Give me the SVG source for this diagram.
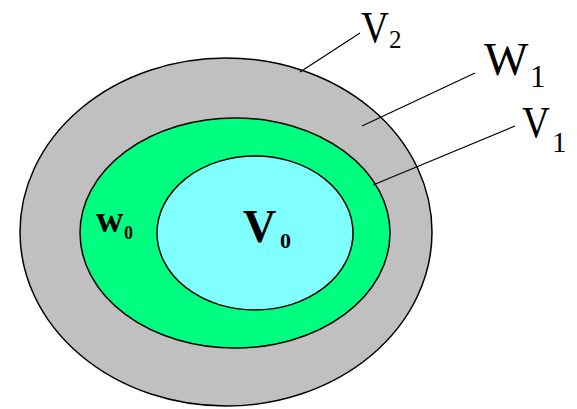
<svg xmlns="http://www.w3.org/2000/svg" width="577" height="409" viewBox="0 0 577 409">
<style>
.region{stroke:#000;stroke-width:1.5}
.lbl{font-family:"Liberation Serif","Times New Roman",serif;fill:#000}
.b{font-weight:bold}
.lead{stroke:#000;stroke-width:1.2;fill:none}
</style>
<rect width="577" height="409" fill="#fff"/>
<g id="V2">
<ellipse class="region" cx="226" cy="232" rx="206" ry="174" fill="#C0C0C0"/>
</g>
<g id="V1">
<ellipse class="region" cx="235" cy="233" rx="155" ry="115" fill="#00FF80"/>
</g>
<g id="V0">
<ellipse class="region" cx="255" cy="233" rx="98" ry="77" fill="#80FFFF"/>
</g>
<g id="connectors">
<line class="lead" x1="300" y1="72" x2="360" y2="33"/>
<line class="lead" x1="362" y1="126" x2="475" y2="73"/>
<line class="lead" x1="373" y1="185" x2="515" y2="126"/>
</g>
<g id="label-V2">
<text class="lbl" font-size="45" transform="translate(361,42) scale(0.86,1)">V</text>
<text class="lbl" x="389" y="48" font-size="25">2</text>
</g>
<g id="label-W1">
<text class="lbl" x="484" y="75" font-size="47">W</text>
<text class="lbl" x="530" y="87" font-size="31">1</text>
</g>
<g id="label-V1">
<text class="lbl" font-size="45" transform="translate(522,137) scale(0.86,1)">V</text>
<text class="lbl" x="552" y="152" font-size="29">1</text>
</g>
<g id="label-V0">
<text class="lbl b" x="243" y="242" font-size="46">V</text>
<text class="lbl b" x="280" y="248" font-size="22">0</text>
</g>
<g id="label-w0">
<text class="lbl b" x="96" y="232" font-size="38">w</text>
<text class="lbl b" x="124" y="239" font-size="18">0</text>
</g>
</svg>
